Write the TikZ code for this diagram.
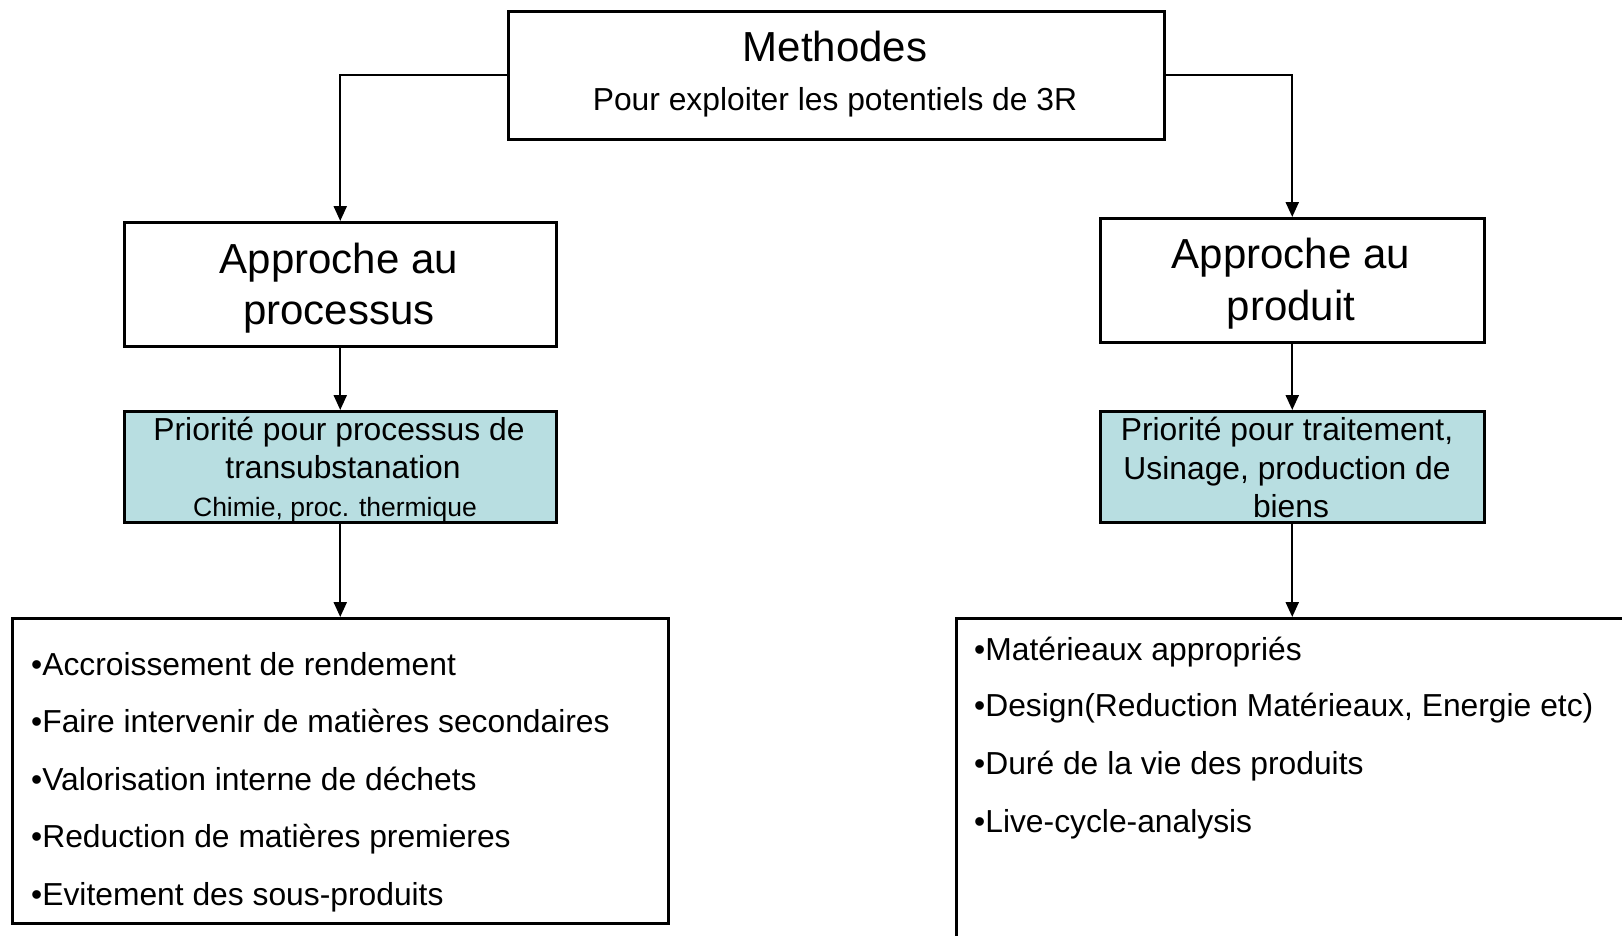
\documentclass[tikz,border=0pt]{standalone}
\usepackage{fontspec}
\setmainfont{Liberation Sans}
\usetikzlibrary{arrows.meta}
\definecolor{tealfill}{RGB}{184,222,225}
\tikzset{
  box/.style={draw, line width=2.5pt, inner sep=0pt, anchor=north west},
  arr/.style={line width=2.3pt, -{Triangle[length=15pt,width=13pt]}},
  big/.style={font=\fontsize{42}{52}\selectfont, anchor=base, inner sep=0pt},
  mid/.style={font=\fontsize{31.8}{38}\selectfont, anchor=base, inner sep=0pt},
  sml/.style={font=\fontsize{26.5}{32}\selectfont, anchor=base, inner sep=0pt},
  item/.style={font=\fontsize{31.8}{38}\selectfont, anchor=base west, inner sep=0pt}
}
\begin{document}
\begin{tikzpicture}[x=1pt,y=-1pt]
\useasboundingbox (0,0) rectangle (1622,935);
\clip (0,0) rectangle (1622,935);
% boxes
\node[box, minimum width=656pt, minimum height=128pt] (top) at (507,10) {};
\node[box, minimum width=432pt, minimum height=124pt] (apl) at (123,221) {};
\node[box, minimum width=384pt, minimum height=124pt] (apr) at (1099,217) {};
\node[box, fill=tealfill, minimum width=432pt, minimum height=111pt] (prl) at (123,410) {};
\node[box, fill=tealfill, minimum width=384pt, minimum height=111pt] (prr) at (1099,410) {};
\node[box, minimum width=656pt, minimum height=305pt] (bl) at (11,617) {};
\node[box, minimum width=800pt, minimum height=400pt] (br) at (955,617) {};
% texts
\node[big] (t1) at (835,61) {Methodes};
\node[mid] (t2) at (835,110) {Pour exploiter les potentiels de 3R};
\node[big] (t3) at (339,273.5) {Approche au};
\node[big] (t4) at (339,324.5) {processus};
\node[big] (t5) at (1291,268.5) {Approche au};
\node[big] (t6) at (1291,320.5) {produit};
\node[mid] (t7) at (339,440) {Priorité pour processus de};
\node[mid] (t8) at (343,478) {transubstanation};
\node[sml] (t9) at (335,516) {Chimie, proc. thermique};
\node[mid] (t10) at (1287,440) {Priorité pour traitement,};
\node[mid] (t11) at (1287,479) {Usinage, production de};
\node[mid] (t12) at (1291,517) {biens};
\node[item] (l1) at (31,675) {•Accroissement de rendement};
\node[item] (l2) at (31,732) {•Faire intervenir de matières secondaires};
\node[item] (l3) at (31,790) {•Valorisation interne de déchets};
\node[item] (l4) at (31,847) {•Reduction de matières premieres};
\node[item] (l5) at (31,905) {•Evitement des sous-produits};
\node[item] (r1) at (974,660) {•Matérieaux appropriés};
\node[item] (r2) at (974,716) {•Design(Reduction Matérieaux, Energie etc)};
\node[item] (r3) at (974,774) {•Duré de la vie des produits};
\node[item] (r4) at (974,832) {•Live-cycle-analysis};
% connectors
\draw[arr] (top.west) -| (apl.north);
\draw[arr] (top.east) -| (apr.north);
\draw[arr] (apl.south) -- (prl.north);
\draw[arr] (apr.south) -- (prr.north);
\draw[arr] (prl.south) -- (bl.north);
\draw[arr] (prr.south) -- (prr.south |- br.north);
\end{tikzpicture}
\end{document}
